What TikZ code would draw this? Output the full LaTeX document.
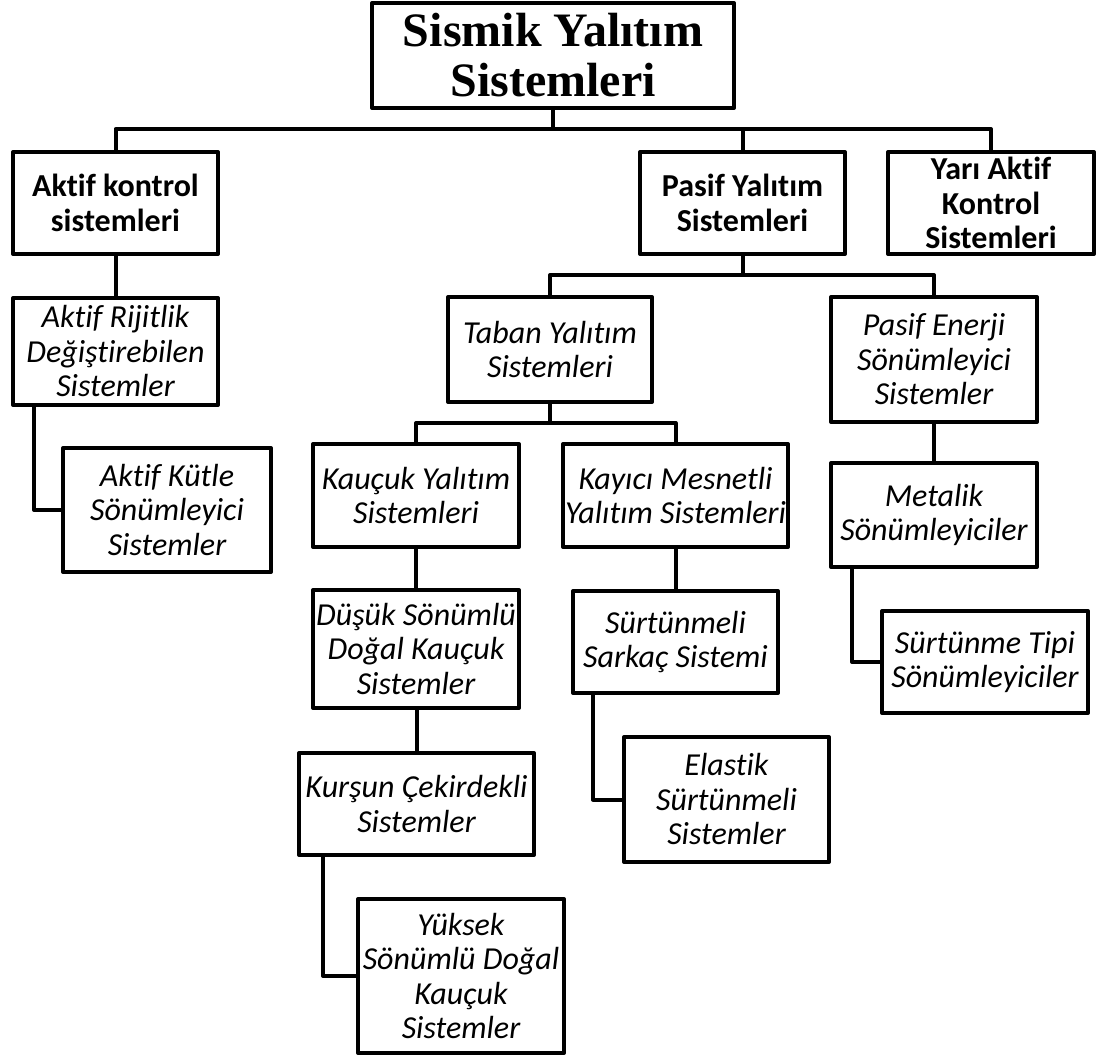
\documentclass[tikz,border=0pt]{standalone}
\usepackage{fontspec}
\setmainfont[Ligatures=NoCommon]{Carlito}
\newfontfamily\titlefont{Liberation Serif}
\begin{document}
\begin{tikzpicture}[x=1pt,y=-1pt,
  box/.style={draw=black, line width=4pt, line join=round, inner sep=0pt, align=center, fill=white,
    font=\fontsize{32}{34.5}\selectfont\itshape},
  topbox/.style={box, font=\fontsize{32}{34.5}\selectfont\bfseries},
  conn/.style={draw=black, line width=4pt, line join=round}]
\useasboundingbox[fill=white] (0,0) rectangle (1101,1059);

% nodes
\node[box, font=\titlefont\fontsize{48}{50}\selectfont\bfseries, minimum width=362pt, minimum height=105pt] (title) at (553,55.5) {Sismik Yalıtım\\Sistemleri};

\node[topbox, minimum width=205pt, minimum height=102pt] (ak) at (115.5,203) {Aktif kontrol\\sistemleri};
\node[topbox, minimum width=205pt, minimum height=102pt] (py) at (742.5,203) {Pasif Yalıtım\\Sistemleri};
\node[topbox, minimum width=206pt, minimum height=102pt] (ya) at (991,203) {Yarı Aktif\\Kontrol\\Sistemleri};

\node[box, minimum width=205pt, minimum height=107pt] (ar) at (115.5,351.5) {Aktif Rijitlik\\Değiştirebilen\\Sistemler};
\node[box, minimum width=208pt, minimum height=124pt] (ku) at (167,510) {Aktif Kütle\\Sönümleyici\\Sistemler};

\node[box, minimum width=204pt, minimum height=105pt] (tb) at (550,349.5) {Taban Yalıtım\\Sistemleri};
\node[box, minimum width=206pt, minimum height=125pt] (pe) at (934,359.5) {Pasif Enerji\\Sönümleyici\\Sistemler};

\node[box, minimum width=206pt, minimum height=103pt] (kc) at (416,495.5) {Kauçuk Yalıtım\\Sistemleri};
\node[box, minimum width=225pt, minimum height=103pt] (ky) at (675.5,495.5) {Kayıcı Mesnetli\\Yalıtım Sistemleri};

\node[box, minimum width=206pt, minimum height=104pt] (mt) at (934,515) {Metalik\\Sönümleyiciler};
\node[box, minimum width=206pt, minimum height=102pt] (st) at (985,662) {Sürtünme Tipi\\Sönümleyiciler};

\node[box, minimum width=206pt, minimum height=118pt] (ds) at (416,649) {Düşük Sönümlü\\Doğal Kauçuk\\Sistemler};
\node[box, minimum width=235pt, minimum height=102pt] (kr) at (416.5,804) {Kurşun Çekirdekli\\Sistemler};
\node[box, minimum width=206pt, minimum height=154pt] (yk) at (461,976) {Yüksek\\Sönümlü Doğal\\Kauçuk\\Sistemler};

\node[box, minimum width=205pt, minimum height=102pt] (ss) at (675.5,642) {Sürtünmeli\\Sarkaç Sistemi};
\node[box, minimum width=205pt, minimum height=125pt] (el) at (726.5,799.5) {Elastik\\Sürtünmeli\\Sistemler};

% bus coordinates
\coordinate (bus1) at (0,129);
\coordinate (bus2) at (0,275);
\coordinate (bus3) at (0,423);

% connectors
\draw[conn] (title.south) -- (title.south |- bus1);
\draw[conn] (ak.north) -- (ak.north |- bus1) -| (ya.north);
\draw[conn] (py.north) -- (py.north |- bus1);

\draw[conn] (ak.south) -- (ar.north);
\draw[conn] (ar.south -| 34,0) |- (ku.west);

\draw[conn] (py.south) -- (py.south |- bus2);
\draw[conn] (tb.north) -- (tb.north |- bus2) -| (pe.north);

\draw[conn] (tb.south) -- (tb.south |- bus3);
\draw[conn] (kc.north) -- (kc.north |- bus3) -| (ky.north);

\draw[conn] (pe.south) -- (mt.north);
\draw[conn] (mt.south -| 852,0) |- (st.west);

\draw[conn] (kc.south) -- (ds.north);
\draw[conn] (ds.south -| 417,0) -- (kr.north -| 417,0);
\draw[conn] (kr.south -| 323,0) |- (yk.west);

\draw[conn] (ky.south) -- (ss.north);
\draw[conn] (ss.south -| 593,0) |- (el.west);
\end{tikzpicture}
\end{document}
